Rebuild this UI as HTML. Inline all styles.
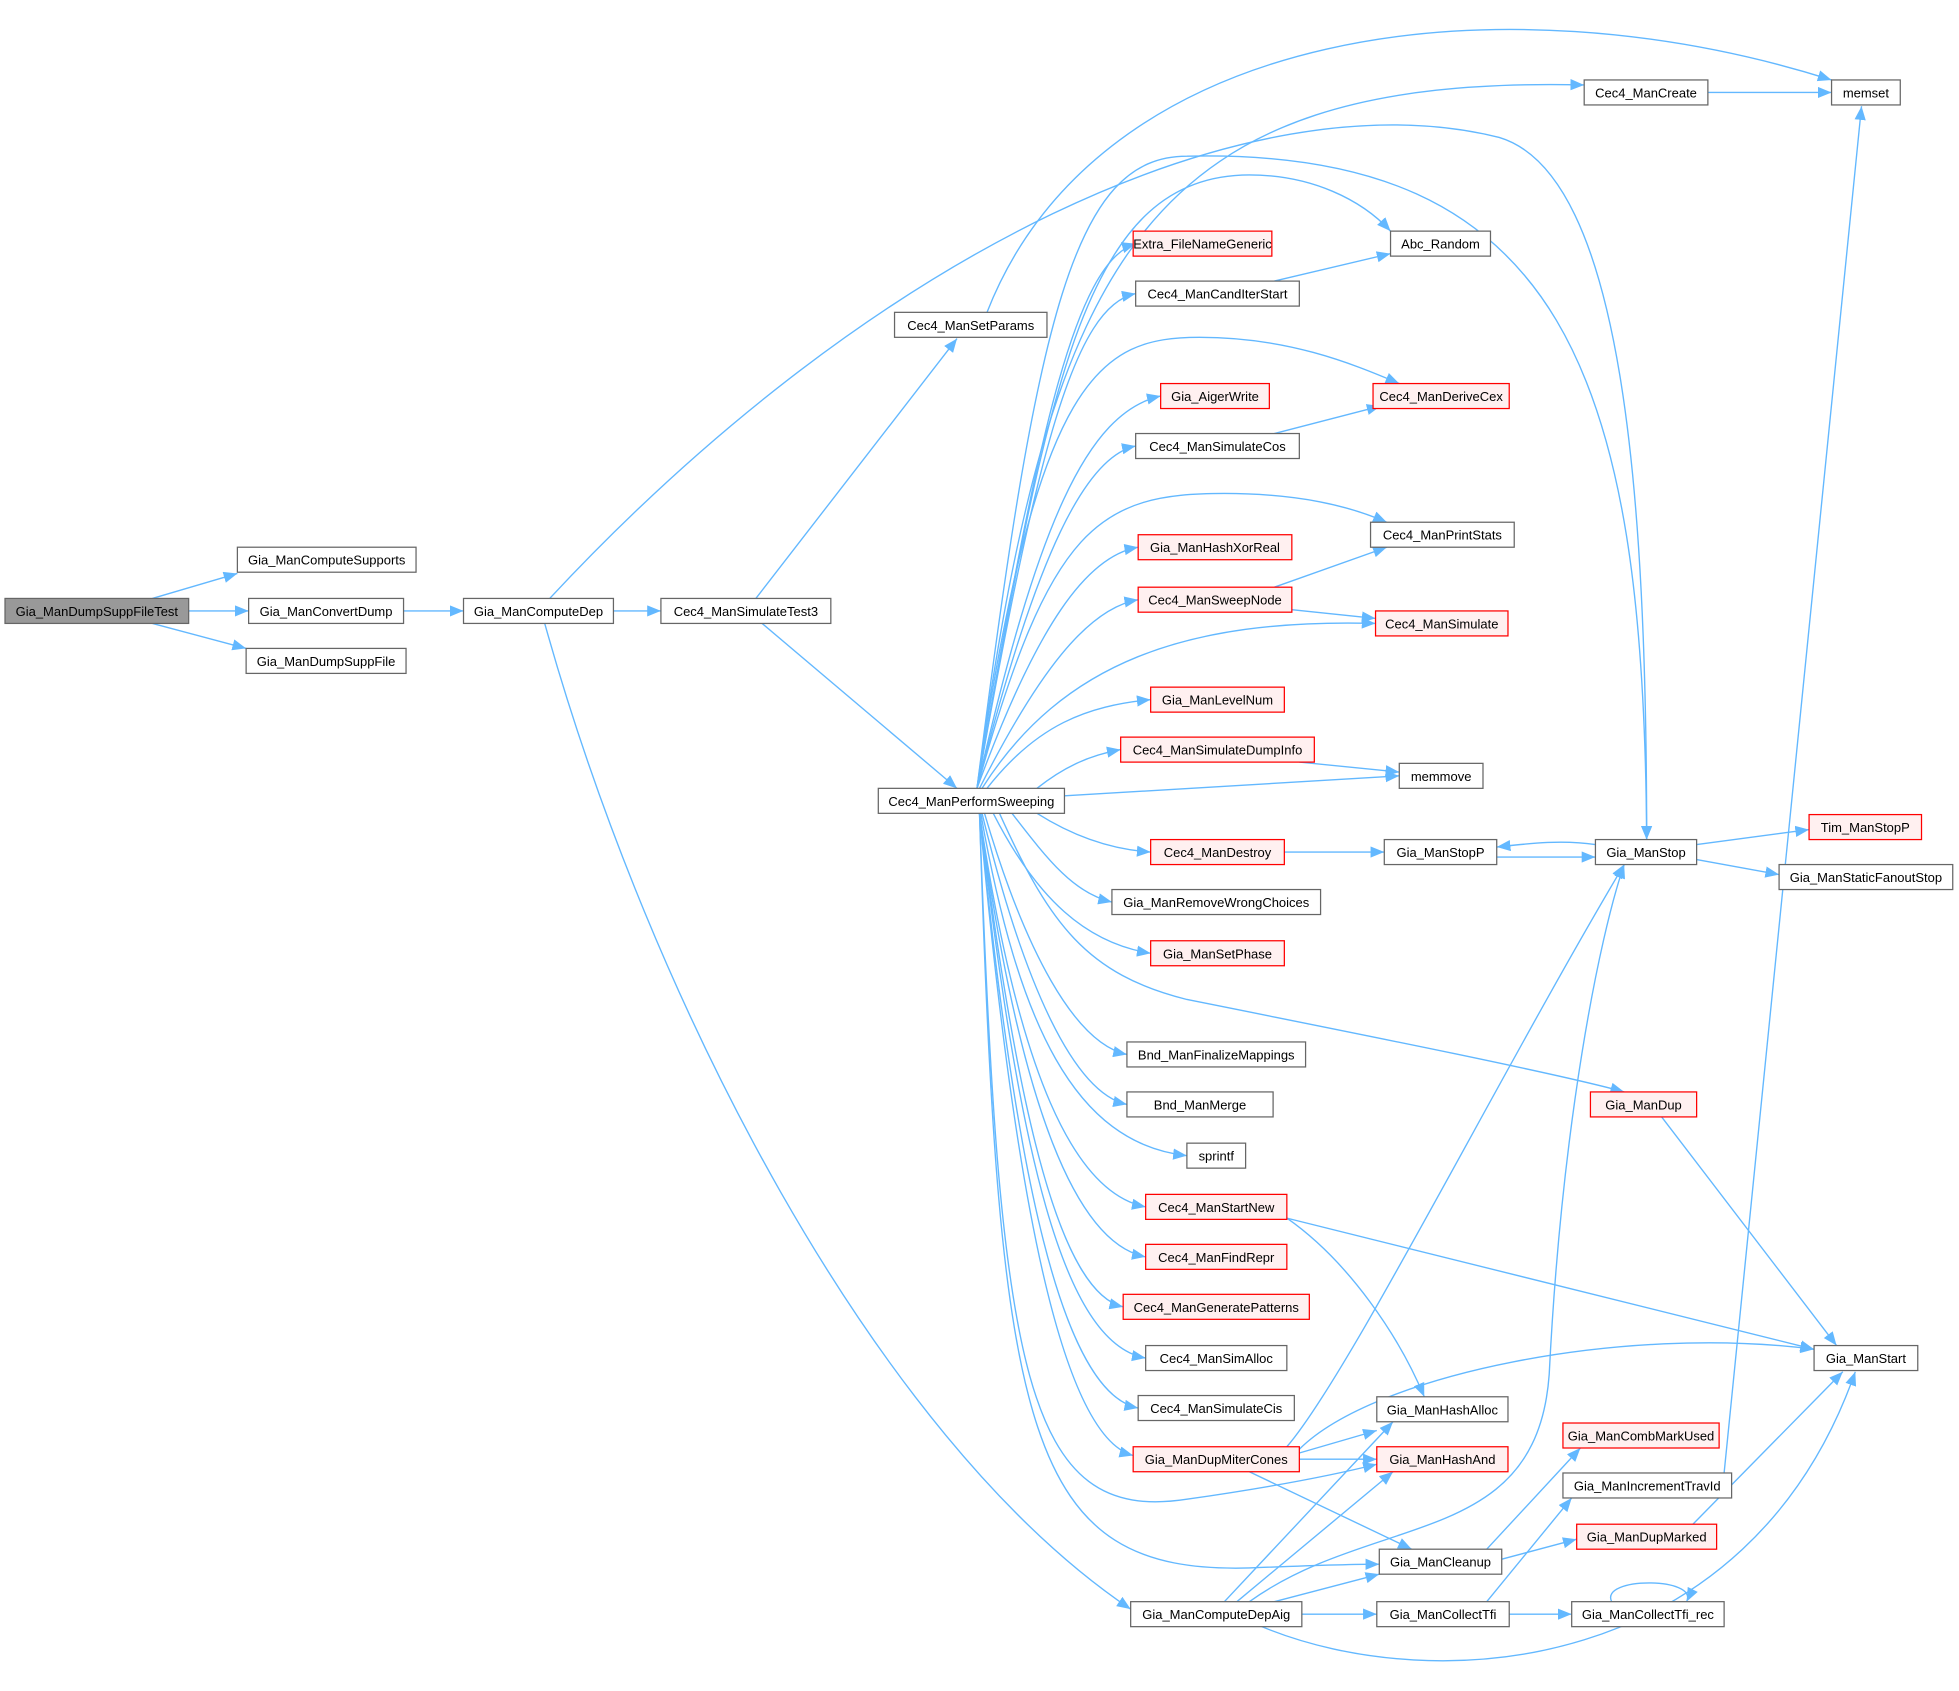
<!DOCTYPE html>
<html><head><meta charset="utf-8"><style>
html,body{margin:0;padding:0;background:#fff}
svg{display:block}
text{font-family:"Liberation Sans",Arial,sans-serif;font-size:10.4px;fill:#000}
.n{fill:#fff;stroke:#666;stroke-width:1}
.r{fill:#fff0f0;stroke:#f00;stroke-width:1}
.g{fill:#999;stroke:#666;stroke-width:1}
path.e{fill:none;stroke:#63b8ff;stroke-width:1.1;marker-end:url(#a)}
</style></head><body>
<svg width="1959" height="1691" viewBox="0 0 1568 1353.5" xmlns="http://www.w3.org/2000/svg">
<defs><marker id="a" markerUnits="userSpaceOnUse" markerWidth="12" markerHeight="10" refX="11" refY="4.5" orient="auto"><polygon points="0,0 11,4.5 0,9" fill="#63b8ff"/></marker></defs>
<g>
<path class="e" d="M122 479 L190 459"/>
<path class="e" d="M151 489 L199 489"/>
<path class="e" d="M122 499 L197 519"/>
<path class="e" d="M323 489 L371 489"/>
<path class="e" d="M491 489 L529 489"/>
<path class="e" d="M440 479 C 700 200, 1000 60, 1200 110 C 1300 140, 1318 400, 1318 672"/>
<path class="e" d="M436 499 C 520 800, 700 1150, 905 1288"/>
<path class="e" d="M605 479 L766 271"/>
<path class="e" d="M610 499 L766 631"/>
<path class="e" d="M790 250 C 880 20, 1200 -20, 1466 64"/>
<path class="e" d="M782 631 C 840 200, 920 60, 1268 68"/>
<path class="e" d="M782 631 C 830 250, 860 125, 950 125 C 1250 118, 1316 300, 1318 672"/>
<path class="e" d="M782 631 C 840 300, 870 140, 1000 140 C 1050 140, 1090 160, 1113 185"/>
<path class="e" d="M782 631 C 830 350, 860 210, 909 195"/>
<path class="e" d="M782 631 C 830 360, 860 245, 909 235"/>
<path class="e" d="M782 631 C 830 300, 880 270, 960 270 C 1030 270, 1080 290, 1120 307"/>
<path class="e" d="M782 631 C 830 420, 870 330, 929 317"/>
<path class="e" d="M782 631 C 830 440, 870 365, 909 357"/>
<path class="e" d="M782 631 C 840 420, 880 395, 980 395 C 1040 395, 1080 405, 1110 418"/>
<path class="e" d="M782 631 C 830 500, 870 445, 911 438"/>
<path class="e" d="M784 631 C 830 540, 870 487, 911 480"/>
<path class="e" d="M786 631 C 850 530, 950 495, 1101 499"/>
<path class="e" d="M790 631 C 830 580, 870 565, 921 560"/>
<path class="e" d="M830 631 C 850 615, 870 605, 897 600"/>
<path class="e" d="M852 637 L1120 621"/>
<path class="e" d="M830 651 C 860 670, 890 680, 921 682"/>
<path class="e" d="M810 651 C 840 690, 860 715, 890 722"/>
<path class="e" d="M795 651 C 830 720, 870 755, 921 763"/>
<path class="e" d="M800 651 C 840 740, 870 780, 950 800 C 1100 830, 1250 860, 1300 874"/>
<path class="e" d="M788 651 C 820 760, 860 835, 902 844"/>
<path class="e" d="M786 651 C 820 790, 860 875, 902 884"/>
<path class="e" d="M785 651 C 815 820, 860 915, 950 925"/>
<path class="e" d="M784 651 C 815 860, 860 955, 917 966"/>
<path class="e" d="M784 651 C 815 880, 860 995, 917 1006"/>
<path class="e" d="M784 651 C 815 900, 850 1035, 899 1046"/>
<path class="e" d="M784 651 C 815 920, 850 1075, 917 1087"/>
<path class="e" d="M784 651 C 812 940, 850 1115, 911 1127"/>
<path class="e" d="M784 651 C 812 960, 850 1150, 907 1165"/>
<path class="e" d="M784 651 C 800 1100, 820 1220, 950 1200 C 1020 1190, 1070 1180, 1102 1172"/>
<path class="e" d="M784 651 C 800 1150, 820 1260, 1000 1255 C 1050 1253, 1080 1252, 1104 1252"/>
<path class="e" d="M1020 225 L1113 203"/>
<path class="e" d="M1020 347 L1105 325"/>
<path class="e" d="M1020 470 L1110 438"/>
<path class="e" d="M1034 488 L1101 495"/>
<path class="e" d="M1040 610 L1120 618"/>
<path class="e" d="M1028 682 L1108 682"/>
<path class="e" d="M1198 686 L1277 686"/>
<path class="e" d="M1277 676 C 1250 672, 1225 675, 1198 678"/>
<path class="e" d="M1358 676 L1448 664"/>
<path class="e" d="M1358 688 L1424 700"/>
<path class="e" d="M1367 74 L1466 74"/>
<path class="e" d="M1330 894 L1470 1077"/>
<path class="e" d="M1030 975 L1452 1080"/>
<path class="e" d="M1030 975 C 1080 1010, 1120 1070, 1140 1118"/>
<path class="e" d="M1040 1163 L1102 1145"/>
<path class="e" d="M1040 1168 L1102 1168"/>
<path class="e" d="M1000 1178 L1130 1240"/>
<path class="e" d="M1040 1160 C 1100 1100, 1300 1060, 1452 1080"/>
<path class="e" d="M1030 1158 C 1080 1100, 1200 860, 1300 692"/>
<path class="e" d="M980 1282 L1115 1138"/>
<path class="e" d="M990 1282 L1115 1178"/>
<path class="e" d="M1020 1282 L1104 1260"/>
<path class="e" d="M1042 1292 L1102 1292"/>
<path class="e" d="M1000 1282 C 1100 1210, 1230 1240, 1240 1100 C 1250 900, 1280 750, 1300 692"/>
<path class="e" d="M1010 1302 C 1150 1360, 1400 1340, 1485 1098"/>
<path class="e" d="M1190 1240 L1265 1159"/>
<path class="e" d="M1202 1248 L1262 1232"/>
<path class="e" d="M1190 1282 L1258 1199"/>
<path class="e" d="M1208 1292 L1258 1292"/>
<path class="e" d="M1290 1282 C 1280 1262, 1360 1262, 1350 1282"/>
<path class="e" d="M1380 1179 L1490 85"/>
<path class="e" d="M1355 1220 L1475 1098"/>
</g>
<g>
<rect class="g" x="4" y="479" width="147" height="20"/><text x="77.5" y="493" text-anchor="middle">Gia_ManDumpSuppFileTest</text>
<rect class="n" x="190" y="438" width="143" height="20"/><text x="261.5" y="452" text-anchor="middle">Gia_ManComputeSupports</text>
<rect class="n" x="199" y="479" width="124" height="20"/><text x="261" y="493" text-anchor="middle">Gia_ManConvertDump</text>
<rect class="n" x="197" y="519" width="128" height="20"/><text x="261" y="533" text-anchor="middle">Gia_ManDumpSuppFile</text>
<rect class="n" x="371" y="479" width="120" height="20"/><text x="431" y="493" text-anchor="middle">Gia_ManComputeDep</text>
<rect class="n" x="529" y="479" width="136" height="20"/><text x="597" y="493" text-anchor="middle">Cec4_ManSimulateTest3</text>
<rect class="n" x="716" y="250" width="122" height="20"/><text x="777" y="264" text-anchor="middle">Cec4_ManSetParams</text>
<rect class="n" x="703" y="631" width="149" height="20"/><text x="777.5" y="645" text-anchor="middle">Cec4_ManPerformSweeping</text>
<rect class="n" x="905" y="1282" width="137" height="20"/><text x="973.5" y="1296" text-anchor="middle">Gia_ManComputeDepAig</text>
<rect class="r" x="907" y="185" width="111" height="20"/><text x="962.5" y="199" text-anchor="middle">Extra_FileNameGeneric</text>
<rect class="n" x="909" y="225" width="131" height="20"/><text x="974.5" y="239" text-anchor="middle">Cec4_ManCandIterStart</text>
<rect class="r" x="929" y="307" width="87" height="20"/><text x="972.5" y="321" text-anchor="middle">Gia_AigerWrite</text>
<rect class="n" x="909" y="347" width="131" height="20"/><text x="974.5" y="361" text-anchor="middle">Cec4_ManSimulateCos</text>
<rect class="r" x="911" y="428" width="123" height="20"/><text x="972.5" y="442" text-anchor="middle">Gia_ManHashXorReal</text>
<rect class="r" x="911" y="470" width="123" height="20"/><text x="972.5" y="484" text-anchor="middle">Cec4_ManSweepNode</text>
<rect class="r" x="921" y="550" width="107" height="20"/><text x="974.5" y="564" text-anchor="middle">Gia_ManLevelNum</text>
<rect class="r" x="897" y="590" width="155" height="20"/><text x="974.5" y="604" text-anchor="middle">Cec4_ManSimulateDumpInfo</text>
<rect class="r" x="921" y="672" width="107" height="20"/><text x="974.5" y="686" text-anchor="middle">Cec4_ManDestroy</text>
<rect class="n" x="890" y="712" width="167" height="20"/><text x="973.5" y="726" text-anchor="middle">Gia_ManRemoveWrongChoices</text>
<rect class="r" x="921" y="753" width="107" height="20"/><text x="974.5" y="767" text-anchor="middle">Gia_ManSetPhase</text>
<rect class="n" x="902" y="834" width="143" height="20"/><text x="973.5" y="848" text-anchor="middle">Bnd_ManFinalizeMappings</text>
<rect class="n" x="902" y="874" width="117" height="20"/><text x="960.5" y="888" text-anchor="middle">Bnd_ManMerge</text>
<rect class="n" x="950" y="915" width="47" height="20"/><text x="973.5" y="929" text-anchor="middle">sprintf</text>
<rect class="r" x="917" y="956" width="113" height="20"/><text x="973.5" y="970" text-anchor="middle">Cec4_ManStartNew</text>
<rect class="r" x="917" y="996" width="113" height="20"/><text x="973.5" y="1010" text-anchor="middle">Cec4_ManFindRepr</text>
<rect class="r" x="899" y="1036" width="149" height="20"/><text x="973.5" y="1050" text-anchor="middle">Cec4_ManGeneratePatterns</text>
<rect class="n" x="917" y="1077" width="113" height="20"/><text x="973.5" y="1091" text-anchor="middle">Cec4_ManSimAlloc</text>
<rect class="n" x="911" y="1117" width="125" height="20"/><text x="973.5" y="1131" text-anchor="middle">Cec4_ManSimulateCis</text>
<rect class="r" x="907" y="1158" width="133" height="20"/><text x="973.5" y="1172" text-anchor="middle">Gia_ManDupMiterCones</text>
<rect class="n" x="1113" y="185" width="80" height="20"/><text x="1153" y="199" text-anchor="middle">Abc_Random</text>
<rect class="r" x="1099" y="307" width="109" height="20"/><text x="1153.5" y="321" text-anchor="middle">Cec4_ManDeriveCex</text>
<rect class="n" x="1097" y="418" width="115" height="20"/><text x="1154.5" y="432" text-anchor="middle">Cec4_ManPrintStats</text>
<rect class="r" x="1101" y="489" width="106" height="20"/><text x="1154" y="503" text-anchor="middle">Cec4_ManSimulate</text>
<rect class="n" x="1120" y="611" width="67" height="20"/><text x="1153.5" y="625" text-anchor="middle">memmove</text>
<rect class="n" x="1108" y="672" width="90" height="20"/><text x="1153" y="686" text-anchor="middle">Gia_ManStopP</text>
<rect class="n" x="1102" y="1118" width="105" height="20"/><text x="1154.5" y="1132" text-anchor="middle">Gia_ManHashAlloc</text>
<rect class="r" x="1102" y="1158" width="105" height="20"/><text x="1154.5" y="1172" text-anchor="middle">Gia_ManHashAnd</text>
<rect class="n" x="1104" y="1240" width="98" height="20"/><text x="1153" y="1254" text-anchor="middle">Gia_ManCleanup</text>
<rect class="n" x="1102" y="1282" width="106" height="20"/><text x="1155" y="1296" text-anchor="middle">Gia_ManCollectTfi</text>
<rect class="n" x="1268" y="64" width="99" height="20"/><text x="1317.5" y="78" text-anchor="middle">Cec4_ManCreate</text>
<rect class="n" x="1277" y="672" width="81" height="20"/><text x="1317.5" y="686" text-anchor="middle">Gia_ManStop</text>
<rect class="r" x="1273" y="874" width="85" height="20"/><text x="1315.5" y="888" text-anchor="middle">Gia_ManDup</text>
<rect class="r" x="1251" y="1139" width="125" height="20"/><text x="1313.5" y="1153" text-anchor="middle">Gia_ManCombMarkUsed</text>
<rect class="n" x="1251" y="1179" width="135" height="20"/><text x="1318.5" y="1193" text-anchor="middle">Gia_ManIncrementTravId</text>
<rect class="r" x="1262" y="1220" width="112" height="20"/><text x="1318" y="1234" text-anchor="middle">Gia_ManDupMarked</text>
<rect class="n" x="1258" y="1282" width="122" height="20"/><text x="1319" y="1296" text-anchor="middle">Gia_ManCollectTfi_rec</text>
<rect class="n" x="1466" y="64" width="55" height="20"/><text x="1493.5" y="78" text-anchor="middle">memset</text>
<rect class="r" x="1448" y="652" width="90" height="20"/><text x="1493" y="666" text-anchor="middle">Tim_ManStopP</text>
<rect class="n" x="1424" y="692" width="139" height="20"/><text x="1493.5" y="706" text-anchor="middle">Gia_ManStaticFanoutStop</text>
<rect class="n" x="1452" y="1077" width="83" height="20"/><text x="1493.5" y="1091" text-anchor="middle">Gia_ManStart</text>
</g>
</svg>
</body></html>
